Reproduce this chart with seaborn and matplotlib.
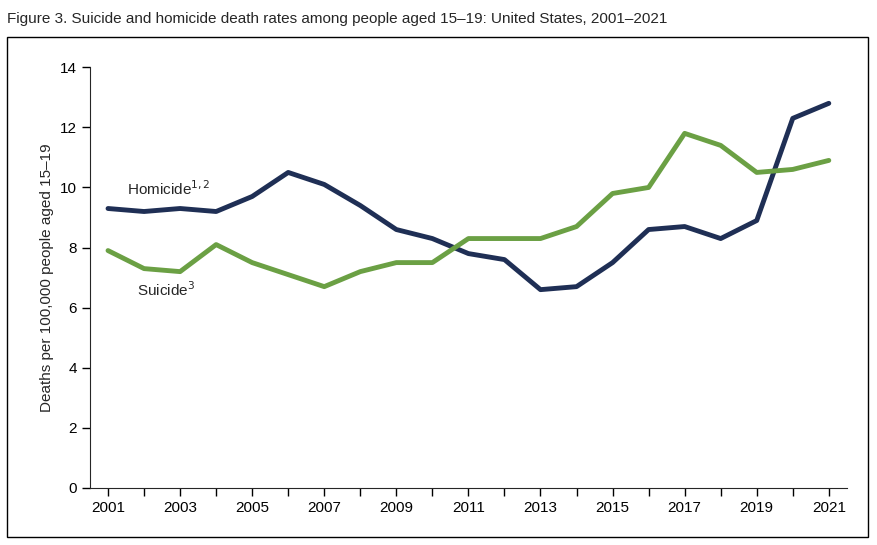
import matplotlib.pyplot as plt
import seaborn as sns
import pandas as pd
from matplotlib.patches import Rectangle

years = list(range(2001, 2022))
homicide = [9.3, 9.2, 9.3, 9.2, 9.7, 10.5, 10.1, 9.4, 8.6, 8.3, 7.8, 7.6, 6.6, 6.7, 7.5, 8.6, 8.7, 8.3, 8.9, 12.3, 12.8]
suicide = [7.9, 7.3, 7.2, 8.1, 7.5, 7.1, 6.7, 7.2, 7.5, 7.5, 8.3, 8.3, 8.3, 8.7, 9.8, 10.0, 11.8, 11.4, 10.5, 10.6, 10.9]

df = pd.DataFrame({'Year': years * 2,
                   'Rate': homicide + suicide,
                   'Cause': ['Homicide'] * len(years) + ['Suicide'] * len(years)})

sns.set_style('ticks')
plt.rcParams['font.family'] = ['Liberation Sans', 'DejaVu Sans']

fig = plt.figure(figsize=(8.78, 5.45), dpi=100)
ax = fig.add_axes([0.1025, 0.1046, 0.862, 0.772])
sns.lineplot(data=df, x='Year', y='Rate', hue='Cause',
             palette={'Homicide': '#1f2f55', 'Suicide': '#6ba044'},
             linewidth=3.5, legend=False, ax=ax)

ax.set_xlim(2000.5, 2021.5)
ax.set_ylim(0, 14)
ax.set_xticks(range(2001, 2022))
ax.set_xticklabels([str(y) if y % 2 == 1 else '' for y in years])
ax.set_yticks(range(0, 15, 2))
ax.tick_params(labelsize=11, length=6, width=1, colors='black')
ax.set_xlabel('')
ax.set_ylabel('Deaths per 100,000 people aged 15–19', fontsize=11)
sns.despine(ax=ax)

ax.text(2002.7, 9.75, 'Homicide$^{1,2}$', fontsize=11, ha='center')
ax.text(2002.6, 6.4, 'Suicide$^{3}$', fontsize=11, ha='center')

fig.text(0.008, 0.965, 'Figure 3. Suicide and homicide death rates among people aged 15–19: United States, 2001–2021',
         fontsize=11, va='center')
fig.patches.append(Rectangle((0.008, 0.015), 0.981, 0.918, transform=fig.transFigure,
                             fill=False, edgecolor='black', linewidth=1))

fig.savefig('out.png', dpi=100)
